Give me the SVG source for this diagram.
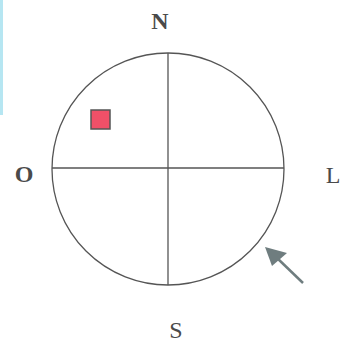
<svg xmlns="http://www.w3.org/2000/svg" width="353" height="345" viewBox="0 0 353 345">
<style>
.lbl{font-family:"Liberation Serif","Times New Roman",serif;font-size:24px;fill:#4a4a4a;text-anchor:middle}
.b{font-weight:bold}
.ln{stroke:#555;stroke-width:1.3;fill:none}
</style>
<rect width="353" height="345" fill="#fff"/>
<rect x="0" y="0" width="3" height="115" fill="#b6e6f2"/>
<g id="compass">
<circle class="ln" cx="168" cy="169" r="116"/>
<line class="ln" x1="168" y1="53" x2="168" y2="285"/>
<line class="ln" x1="52" y1="168" x2="284" y2="168"/>
</g>
<g id="square">
<rect x="91" y="110" width="19" height="19" fill="#f05068" stroke="#555" stroke-width="1.5"/>
</g>
<g id="arrow">
<line x1="303" y1="283" x2="276" y2="257" stroke="#6f7d7f" stroke-width="2.5"/>
<polygon points="265,247 287,253 272,266" fill="#6f7d7f"/>
</g>
<g id="labels">
<text class="lbl b" x="160" y="29">N</text>
<text class="lbl b" x="24" y="182">O</text>
<text class="lbl" x="333" y="183">L</text>
<text class="lbl" x="176" y="338">S</text>
</g>
</svg>
